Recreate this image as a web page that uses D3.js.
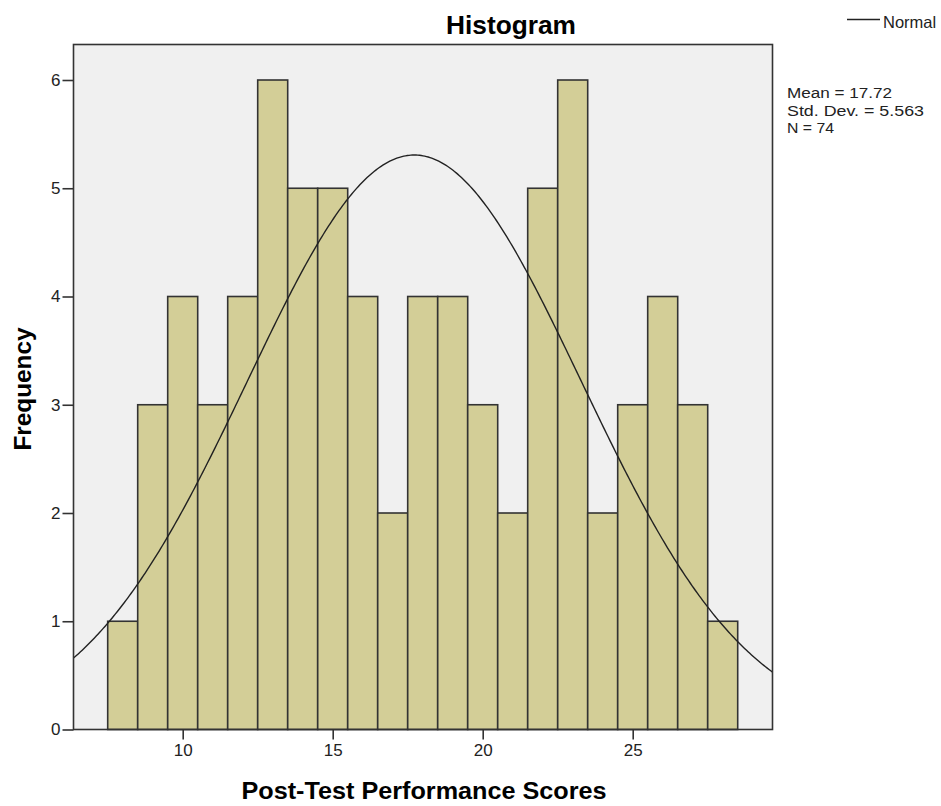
<!DOCTYPE html>
<html>
<head>
<meta charset="utf-8">
<script src="https://cdn.jsdelivr.net/npm/d3@7"></script>
<style>
html,body{margin:0;padding:0;background:#fff;}
svg text{font-family:"Liberation Sans",Arial,sans-serif;}
</style>
</head>
<body>
<svg id="chart" width="941" height="806"></svg>
<script>
// Data
const binCenters = [8,9,10,11,12,13,14,15,16,17,18,19,20,21,22,23,24,25,26,27,28];
const frequencies = [1,3,4,3,4,6,5,5,4,2,4,4,3,2,5,6,2,3,4,3,1];
const xTicks = [10,15,20,25];
const yTicks = [0,1,2,3,4,5,6];
const stats = {mean:17.72, sd:5.563, n:74};
const statLines = ["Mean = 17.72","Std. Dev. = 5.563","N = 74"];
const statWidths = [105,137,47];
const binWidth = 1;

const svg = d3.select("#chart");
const L = 73.5, R = 772.5, T = 44.5, B = 729.5;

const x = d3.scaleLinear().domain([6.36, 29.66]).range([L, R]);
const y = d3.scaleLinear().domain([0, 6]).range([B, 80]);

// plot background
svg.append("rect").attr("x",L).attr("y",T).attr("width",R-L).attr("height",B-T)
  .attr("fill","#f0f0f0");

// bars
svg.append("g").selectAll("rect").data(binCenters).join("rect")
  .attr("x",(d)=>x(d-binWidth/2))
  .attr("width",(d)=>x(d+binWidth/2)-x(d-binWidth/2))
  .attr("y",(d,i)=>y(frequencies[i]))
  .attr("height",(d,i)=>y(0)-y(frequencies[i]))
  .attr("fill","#d3ce97")
  .attr("stroke","#333")
  .attr("stroke-width",1.6);

// normal curve
const pts = d3.range(0,401).map(i=>{
  const v = x.domain()[0] + (x.domain()[1]-x.domain()[0])*i/400;
  const f = stats.n*binWidth/(stats.sd*Math.sqrt(2*Math.PI))*Math.exp(-0.5*Math.pow((v-stats.mean)/stats.sd,2));
  return [v,f];
});
svg.append("clipPath").attr("id","clipP").append("rect")
  .attr("x",L).attr("y",T).attr("width",R-L).attr("height",B-T);
svg.append("path").datum(pts)
  .attr("clip-path","url(#clipP)")
  .attr("d",d3.line().x(d=>x(d[0])).y(d=>y(d[1])))
  .attr("fill","none").attr("stroke","#222").attr("stroke-width",1.4);

// frame
svg.append("rect").attr("x",L).attr("y",T).attr("width",R-L).attr("height",B-T)
  .attr("fill","none").attr("stroke","#333").attr("stroke-width",1.6);

// axes
const xAxis = svg.append("g").attr("transform",`translate(0,${B})`)
  .call(d3.axisBottom(x).tickValues(xTicks).tickSize(10).tickPadding(4).tickFormat(d3.format("d")));
const yAxis = svg.append("g").attr("transform",`translate(${L},0)`)
  .call(d3.axisLeft(y).tickValues(yTicks).tickSize(11).tickPadding(2).tickFormat(d3.format("d")));
[xAxis,yAxis].forEach(a=>{
  a.select(".domain").remove();
  a.selectAll(".tick line").attr("stroke","#333").attr("stroke-width",1.6);
  a.selectAll(".tick text").attr("fill","#222").style("font-size","17px")
   .style("font-family","'Liberation Sans',Arial,sans-serif");
});

// title
svg.append("text").attr("x",511).attr("y",34).attr("text-anchor","middle")
  .style("font-size","25px").style("font-weight","bold").attr("fill","#000")
  .attr("textLength",130).attr("lengthAdjust","spacingAndGlyphs").text("Histogram");

// axis titles
svg.append("text").attr("x",424).attr("y",799).attr("text-anchor","middle")
  .style("font-size","23px").style("font-weight","bold").attr("fill","#000")
  .attr("textLength",365).attr("lengthAdjust","spacingAndGlyphs")
  .text("Post-Test Performance Scores");
svg.append("text").attr("transform","translate(31,389) rotate(-90)").attr("text-anchor","middle")
  .style("font-size","23px").style("font-weight","bold").attr("fill","#000")
  .attr("textLength",123).attr("lengthAdjust","spacingAndGlyphs")
  .text("Frequency");

// legend
svg.append("line").attr("x1",847).attr("x2",880).attr("y1",19.5).attr("y2",19.5)
  .attr("stroke","#222").attr("stroke-width",1.4);
svg.append("text").attr("x",883).attr("y",28).style("font-size","16.5px").attr("fill","#222").text("Normal");

// stats
svg.append("g").selectAll("text").data(statLines).join("text")
  .attr("x",787).attr("y",(d,i)=>98+i*17.5)
  .style("font-size","15.5px").attr("fill","#222")
  .attr("textLength",(d,i)=>statWidths[i]).attr("lengthAdjust","spacingAndGlyphs")
  .text(d=>d);
</script>
</body>
</html>
